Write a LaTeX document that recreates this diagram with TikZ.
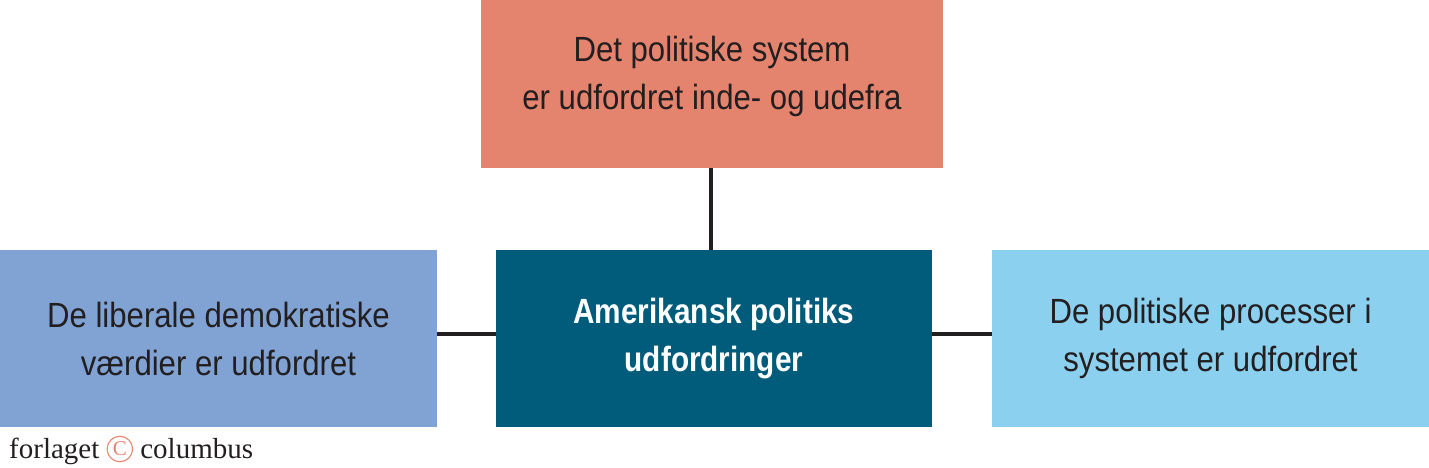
\documentclass[tikz,border=0pt]{standalone}
\usepackage{fontspec}
\usetikzlibrary{positioning}
\setmainfont{Liberation Sans}[FakeStretch=0.89, BoldFeatures={FakeStretch=0.85}]
\newfontfamily\logofont{Liberation Serif}
\definecolor{topsalmon}{RGB}{229, 132, 110}
\definecolor{midteal}{RGB}{0, 92, 122}
\definecolor{leftblue}{RGB}{128, 163, 212}
\definecolor{rightblue}{RGB}{140, 208, 240}
\definecolor{inkdark}{RGB}{35, 31, 32}

\begin{document}
\begin{tikzpicture}[x=1pt, y=-1pt,
    boxnode/.style={rectangle, inner sep=0pt, align=center, text=inkdark,
        font=\fontsize{35}{48}\selectfont},
    logotext/.style={anchor=base west, inner sep=0pt, text=inkdark,
        font=\logofont\fontsize{29}{30}\selectfont},
    linkline/.style={draw=inkdark, line width=3.5pt}]
\useasboundingbox (0,0) rectangle (1429,468);

% Boxes
\node[boxnode, fill=topsalmon, minimum width=462pt, minimum height=168pt] (system) at (712,84) {};
\node[boxnode] (systemtext) at ([yshift=8pt]system.center)
    {Det politiske system\\er udfordret inde- og udefra};
\node[boxnode, fill=midteal, text=white, minimum width=436pt, minimum height=177pt,
    font=\fontsize{35}{48}\selectfont\bfseries] (main) at (714,338.5)
    {Amerikansk politiks\\udfordringer};
\node[boxnode, fill=leftblue, minimum width=437pt, minimum height=177pt] (values) at (218.5,338.5)
    {De liberale demokratiske\\værdier er udfordret};
\node[boxnode, fill=rightblue, minimum width=437pt, minimum height=177pt] (process) at (1210.5,338.5)
    {De politiske processer i\\systemet er udfordret};

% Connectors
\draw[linkline] (system.south -| 711,0) -- (main.north -| 711,0);
\draw[linkline] (values.east |- 0,334) -- (main.west |- 0,334);
\draw[linkline] (main.east |- 0,334) -- (process.west |- 0,334);

% Publisher mark
\node[logotext] (forlag) at (9,458) {forlaget};
\node[circle, draw=topsalmon, text=topsalmon, line width=1.1pt, inner sep=2pt, anchor=west,
    font=\logofont\fontsize{21}{21}\selectfont] (copy) at ([xshift=7pt, yshift=9pt]forlag.base east) {C};
\node[logotext] (columbus) at ([xshift=7pt]copy.east |- forlag.base) {columbus};
\end{tikzpicture}
\end{document}
